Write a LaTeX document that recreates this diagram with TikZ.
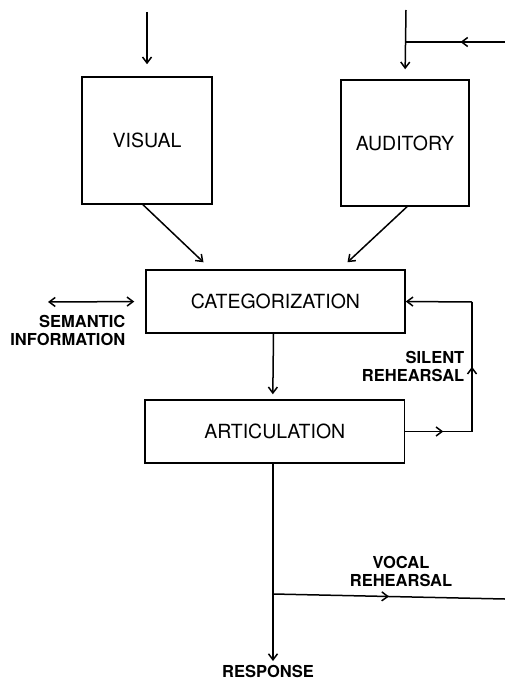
\documentclass[tikz,border=0pt]{standalone}
\usepackage{fontspec}
\setmainfont{TeX Gyre Heros}
\usetikzlibrary{arrows.meta,decorations.markings}

\begin{document}
\begin{tikzpicture}[x=1pt,y=-1pt,line width=1.5pt,>={Straight Barb[length=6pt,width=9pt]},
box/.style={draw,rectangle,inner sep=0pt,font=\fontsize{19.5}{22}\selectfont},
lbl/.style={inner sep=0pt,font=\bfseries\fontsize{16.5}{18}\selectfont},
midarrow/.style={postaction={decorate},decoration={markings,mark=at position #1 with {\arrow{>}}}}]
\useasboundingbox (0,0) rectangle (505,685);
\node[box,minimum width=130pt,minimum height=127pt] (vis) at (147,140.5) {VISUAL};
\node[box,minimum width=128pt,minimum height=126pt] (aud) at (405,143) {AUDITORY};
\node[box,minimum width=259pt,minimum height=63pt] (cat) at (275.5,301.5) {CATEGORIZATION};
\node[box,minimum width=259.5pt,minimum height=63pt] (art) at (274.75,431.5) {ARTICULATION};
\node[lbl,anchor=east,align=right] (sem) at (126,330) {SEMANTIC\\INFORMATION};
\node[lbl,anchor=east,align=right] (sil) at (465,366) {SILENT\\REHEARSAL};
\node[lbl,align=center] (voc) at (401,571) {VOCAL\\REHEARSAL};
\node[lbl] (resp) at (268,671) {RESPONSE};
\coordinate (vin) at (147,12);
\coordinate (ain) at (406,10);
\coordinate (aj) at (406,42);
\coordinate (aext) at (505,42);
\coordinate (semend) at (48,302);
\coordinate (sr1) at (472,431.5);
\coordinate (sr2) at (472,302);
\coordinate (vj) at (273,594);
\coordinate (vext) at (505,599);
\draw[->,shorten >=12pt] (vin) -- (vis.north);
\draw[->,shorten >=10pt] (ain) -- (aud.north);
\draw[midarrow=0.45] (aext) -- (aj);
\draw[->] ([xshift=-4pt]vis.south) -- ([xshift=-72pt,yshift=7pt]cat.north);
\draw[->] ([xshift=2pt]aud.south) -- ([xshift=72pt,yshift=7pt]cat.north);
\draw[<->,shorten >=11pt] (semend) -- (cat.west);
\draw[->,shorten >=5pt] ([xshift=-2pt]cat.south) -- ([xshift=-2pt]art.north);
\draw[midarrow=0.57] (art.east) -- (sr1);
\draw[midarrow=0.5] (sr1) -- (sr2);
\draw[->] (sr2) -- (cat.east);
\draw[->,shorten >=3pt] (art.south -| vj) -- (resp.north -| vj);
\draw[midarrow=0.5] (vj) -- (vext);
\end{tikzpicture}
\end{document}
